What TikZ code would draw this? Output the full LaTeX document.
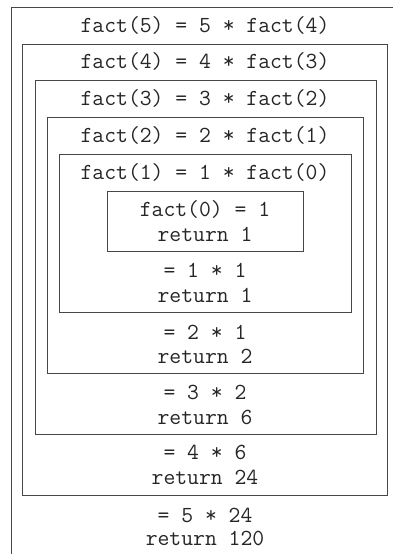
\documentclass[tikz,border=0pt]{standalone}
\begin{document}
\begin{tikzpicture}[x=1pt,y=-1pt,
  frame/.style={draw=black!72, line width=1pt},
  code/.style={font=\ttfamily\fontsize{23}{27}\selectfont, anchor=base, inner sep=0pt, text=black!85}]
\useasboundingbox (0,0) rectangle (393,554);
\clip (0,0) rectangle (393,554);
\fill[white] (0,0) rectangle (393,554);
% frames
\draw[frame] (11,570) -- (11,7) -- (410,7);
\draw[frame] (22.5,44) rectangle (387,495);
\draw[frame] (35,80) rectangle (376,434);
\draw[frame] (47,117) rectangle (363,373);
\draw[frame] (59,154) rectangle (351,312);
\draw[frame] (107,191) rectangle (303,251);
% texts
\node[code] (t5) at (205,32) {fact(5) = 5 * fact(4)};
\node[code] (t4) at (205,68) {fact(4) = 4 * fact(3)};
\node[code] (t3) at (205,105) {fact(3) = 3 * fact(2)};
\node[code] (t2) at (205,142) {fact(2) = 2 * fact(1)};
\node[code] (t1) at (205,179) {fact(1) = 1 * fact(0)};
\node[code] (t0) at (205,216) {fact(0) = 1};
\node[code] (r0) at (205,241) {return 1};
\node[code] (m1) at (205,277) {= 1 * 1};
\node[code] (r1) at (205,302) {return 1};
\node[code] (m2) at (205,339) {= 2 * 1};
\node[code] (r2) at (205,363) {return 2};
\node[code] (m3) at (205,399) {= 3 * 2};
\node[code] (r3) at (205,424) {return 6};
\node[code] (m4) at (205,459) {= 4 * 6};
\node[code] (r4) at (205,484) {return 24};
\node[code] (m5) at (205,522) {= 5 * 24};
\node[code] (r5) at (205,545) {return 120};
\end{tikzpicture}
\end{document}
